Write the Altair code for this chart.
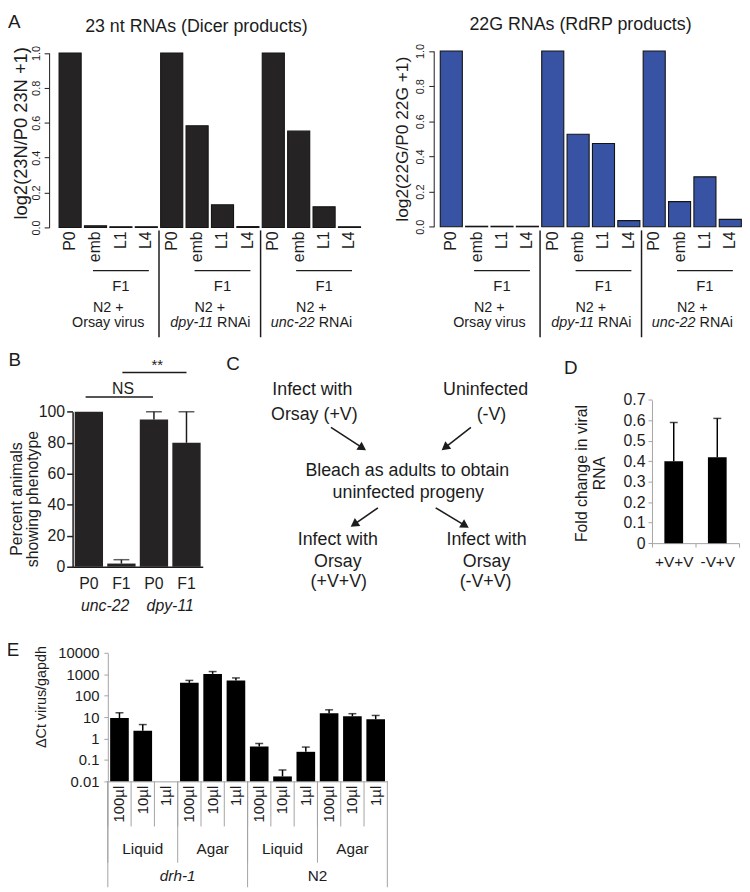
import math
import altair as alt
import pandas as pd

W, H = 742, 884
SX, SY = W / 750.0, H / 892.0


def X(v):
    return round(v * SX, 2)


def Y(v):
    return round(v * SY, 2)


FONT = "Liberation Sans"
INK = "#1c1c1c"
BAR_DARK = "#262324"
BLUE = "#3953a4"
GRAY = "#a3a3a3"

# ---------------- data ----------------
A_GROUPS = ["Orsay virus", "dpy-11 RNAi", "unc-22 RNAi"]
A_STAGES = ["P0", "emb", "L1", "L4"]
A_DICER = [1.00, 0.010, 0.004, 0.004, 1.00, 0.583, 0.130, 0.005, 1.00, 0.552, 0.118, 0.004]
A_RDRP = [1.00, 0.003, 0.003, 0.003, 1.00, 0.526, 0.474, 0.035, 1.00, 0.143, 0.284, 0.042]
A_YTICKS = [0.0, 0.2, 0.4, 0.6, 0.8, 1.0]

B_GENES = ["unc-22", "dpy-11"]
B_GENS = ["P0", "F1"]
B_PCT = [100, 2, 95, 80]
B_ERR = [0, 2.5, 5, 20]
B_YTICKS = [0, 20, 40, 60, 80, 100]

D_CATS = ["+V+V", "-V+V"]
D_FOLD = [0.40, 0.42]
D_ERR = [0.19, 0.19]
D_YTICKS = [0, 0.1, 0.2, 0.3, 0.4, 0.5, 0.6, 0.7]

E_STRAINS = ["drh-1", "N2"]
E_MEDIA = ["Liquid", "Agar"]
E_VOLS = ["100µl", "10µl", "1µl"]
E_CT = [9, 2.3, None, 400, 1050, 520, 0.42, 0.017, 0.24, 15, 11, 8]
E_ERR = [7, 2.2, None, 120, 300, 160, 0.17, 0.017, 0.16, 7, 3.5, 4]
E_YTICKS = [0.01, 0.1, 1, 10, 100, 1000, 10000]

ONE = pd.DataFrame({"k": [0]})


# ---------------- helpers ----------------
def txt(s, x, y, size=15, align="center", angle=0, style="normal", baseline="middle", color=INK):
    return alt.Chart(pd.DataFrame({"t": [s]})).mark_text(
        align=align, baseline=baseline, angle=angle, fontSize=size, font=FONT,
        fontStyle=style, color=color,
    ).encode(x=alt.value(X(x)), y=alt.value(Y(y)), text="t:N")


def band_text(df, xfield, tfield, xs, xa, y, bp=0.5, size=15, align="center", angle=0,
              style="normal", baseline="middle", dx=0):
    return alt.Chart(df).mark_text(
        align=align, baseline=baseline, angle=angle, fontSize=size, font=FONT,
        fontStyle=style, color=INK, dx=dx,
    ).encode(
        x=alt.X(f"{xfield}:N", scale=xs, axis=xa, bandPosition=bp),
        y=alt.value(Y(y)),
        text=f"{tfield}:N",
    )


def band_vrule(df, xfield, xs, xa, bp, y1, y2, color=INK, width=1.2):
    return alt.Chart(df).mark_rule(color=color, strokeWidth=width).encode(
        x=alt.X(f"{xfield}:N", scale=xs, axis=xa, bandPosition=bp),
        y=alt.value(Y(y1)), y2=alt.value(Y(y2)),
    )


def band_hrule(df, f1, bp1, f2, bp2, xs, xa, y, color=INK, width=1.2):
    return alt.Chart(df).mark_rule(color=color, strokeWidth=width).encode(
        x=alt.X(f"{f1}:N", scale=xs, axis=xa, bandPosition=bp1),
        x2=alt.X2(f"{f2}:N", bandPosition=bp2),
        y=alt.value(Y(y)),
    )


def arrow(x0, y0, x1, y1, size=95):
    X0, Y0, X1, Y1 = X(x0), Y(y0), X(x1), Y(y1)
    dx, dy = X1 - X0, Y1 - Y0
    L = math.hypot(dx, dy)
    ux, uy = dx / L, dy / L
    r = math.sqrt(size) / 2
    h = r * math.tan(math.radians(30))
    cx, cy = X1 - ux * 2 * h, Y1 - uy * 2 * h
    ang = math.degrees(math.atan2(dx, -dy)) % 360
    shaft = alt.Chart(ONE).mark_rule(color=INK, strokeWidth=1.6).encode(
        x=alt.value(X0), y=alt.value(Y0), x2=alt.value(round(cx, 2)), y2=alt.value(round(cy, 2)))
    head = alt.Chart(ONE).mark_point(shape="triangle-up", filled=True, size=size, angle=round(ang, 1),
                                     color=INK, opacity=1, strokeWidth=0).encode(
        x=alt.value(round(cx, 2)), y=alt.value(round(cy, 2)))
    return [shaft, head]


# ---------------- panel A ----------------
def panel_a(values, fill, x0, x1, ybot, ytop, axis_x):
    cats = [f"{g}|{s}" for g in A_GROUPS for s in A_STAGES]
    df = pd.DataFrame({"cat": cats, "stage": A_STAGES * 3, "value": values})
    xs = alt.Scale(domain=cats, range=[X(x0), X(x1)], paddingInner=0, paddingOuter=0)
    ys = alt.Scale(domain=[0, 1], range=[Y(ybot), Y(ytop)], nice=False)
    xa = None
    bars = alt.Chart(df).mark_bar(
        width=alt.RelativeBandSize(0.87), fill=fill, stroke="#141414", strokeWidth=1.1
    ).encode(
        x=alt.X("cat:N", scale=xs, axis=xa),
        y=alt.Y("value:Q", scale=ys, axis=alt.Axis(
            orient="left", offset=-X(axis_x), values=A_YTICKS, format=".1f", title=None,
            labelAngle=270, labelAlign="center", labelBaseline="bottom", labelFontSize=11,
            labelPadding=3, tickSize=5, tickColor=INK, domainColor=INK, labelColor=INK,
            grid=False, labelFlush=False, labelOverlap=False)),
    )
    ticks = band_text(df, "cat", "stage", xs, xa, 223, size=16, align="right", angle=270)
    grp = pd.DataFrame({
        "start": [f"{g}|emb" for g in A_GROUPS],
        "l1": [f"{g}|L1" for g in A_GROUPS],
        "end": [f"{g}|L4" for g in A_GROUPS],
        "f1": ["F1"] * 3,
        "n2": ["N2 +"] * 3,
    })
    f1line = band_hrule(grp, "start", 0.4, "end", 0.6, xs, xa, 263, width=1.4)
    f1text = band_text(grp, "l1", "f1", xs, xa, 279, size=15)
    n2text = band_text(grp, "start", "n2", xs, xa, 301.5, bp=1, size=14.5)
    g1 = pd.DataFrame({"c": [f"{A_GROUPS[0]}|emb"], "t": ["Orsay virus"]})
    g1t = band_text(g1, "c", "t", xs, xa, 317, bp=1, size=14.5)
    gi = pd.DataFrame({"c": [f"{g}|emb" for g in A_GROUPS[1:]],
                       "it": [g.split(" ")[0] for g in A_GROUPS[1:]],
                       "rest": [g.split(" ")[1] for g in A_GROUPS[1:]]})
    git = band_text(gi, "c", "it", xs, xa, 317, bp=1, size=14.5, align="right", style="italic", dx=3.3)
    grt = band_text(gi, "c", "rest", xs, xa, 317, bp=1, size=14.5, align="left", dx=7.4)
    seps = pd.DataFrame({"c": [f"{g}|P0" for g in A_GROUPS[1:]]})
    sep = band_vrule(seps, "c", xs, xa, 0, 222, 331, width=1.5)
    return [alt.layer(bars, ticks, f1line, f1text, n2text, g1t, git, grt, sep)]


# ---------------- panel B ----------------
def panel_b():
    cats = [f"{g}|{s}" for g in B_GENES for s in B_GENS]
    df = pd.DataFrame({"cat": cats, "pct": B_PCT, "err": B_ERR})
    df["hi"] = df["pct"] + df["err"]
    xs = alt.Scale(domain=cats, range=[X(66), X(199)], paddingInner=0, paddingOuter=0)
    ys = alt.Scale(domain=[0, 100], range=[Y(565), Y(407)], nice=False)
    xa = alt.Axis(orient="bottom", offset=Y(565) - H, labelExpr="split(datum.value, '|')[1]",
                  ticks=False, tickSize=0, labelPadding=9, labelFontSize=16, labelAngle=0,
                  domainColor=INK, domainWidth=1.5, title=None, labelColor=INK)
    ya = alt.Axis(orient="left", offset=-X(66), values=B_YTICKS, title=None, tickSize=6,
                  tickWidth=1.5, domainWidth=1.5, tickColor=INK, domainColor=INK, labelFontSize=16,
                  labelPadding=2, labelColor=INK, grid=False, labelFlush=False, labelOverlap=False)
    bars = alt.Chart(df).mark_bar(width=alt.RelativeBandSize(0.87), color=BAR_DARK).encode(
        x=alt.X("cat:N", scale=xs, axis=xa),
        y=alt.Y("pct:Q", scale=ys, axis=ya),
    )
    de = df[df["err"] > 0]
    erule = alt.Chart(de).mark_rule(color=INK, strokeWidth=1.5).encode(
        x=alt.X("cat:N", scale=xs, axis=xa), y=alt.Y("pct:Q", scale=ys, axis=ya), y2="hi:Q")
    ecap = alt.Chart(de).mark_tick(color=INK, thickness=1.5, size=16).encode(
        x=alt.X("cat:N", scale=xs, axis=xa), y=alt.Y("hi:Q", scale=ys, axis=ya))
    ns = pd.DataFrame({"a": ["unc-22|P0"], "b": ["dpy-11|P0"], "m": ["unc-22|F1"], "t": ["NS"]})
    st = pd.DataFrame({"a": ["unc-22|F1"], "b": ["dpy-11|F1"], "m": ["dpy-11|P0"], "t": ["**"]})
    nsl = band_hrule(ns, "a", 0.4, "b", 0.47, xs, xa, 392, width=1.5)
    nst = band_text(ns, "m", "t", xs, xa, 384, bp=0.55, size=16)
    stl = band_hrule(st, "a", 0.53, "b", 0.5, xs, xa, 367, width=1.5)
    stt = band_text(st, "m", "t", xs, xa, 359, bp=0.6, size=15)
    genes = pd.DataFrame({"c": [f"{g}|P0" for g in B_GENES], "g": B_GENES})
    gt = band_text(genes, "c", "g", xs, xa, 605, bp=1, size=16, style="italic")
    return [alt.layer(bars, erule, ecap, nsl, nst, stl, stt, gt),
            txt("Percent animals", 9, 496, size=16, angle=270),
            txt("showing phenotype", 26, 496, size=16, angle=270)]


# ---------------- panel D ----------------
def panel_d():
    df = pd.DataFrame({"cat": D_CATS, "v": D_FOLD, "err": D_ERR})
    df["hi"] = df["v"] + df["err"]
    xs = alt.Scale(domain=D_CATS, range=[X(658), X(747)], paddingInner=0, paddingOuter=0)
    ys = alt.Scale(domain=[0, 0.7], range=[Y(541), Y(395)], nice=False)
    xa = alt.Axis(orient="bottom", offset=Y(541) - H, tickBand="extent", tickSize=4, tickColor=GRAY,
                  domainColor=GRAY, labelPadding=8, labelFontSize=15.5, labelAngle=0, title=None,
                  labelColor=INK)
    ya = alt.Axis(orient="left", offset=-X(658), values=D_YTICKS, format=".1~f", title=None,
                  tickSize=4, tickColor=GRAY, domainColor=GRAY, labelFontSize=16, labelPadding=3,
                  labelColor=INK, grid=False, labelFlush=False, labelOverlap=False)
    bars = alt.Chart(df).mark_bar(width=alt.RelativeBandSize(0.43), color="#000000").encode(
        x=alt.X("cat:N", scale=xs, axis=xa),
        y=alt.Y("v:Q", scale=ys, axis=ya),
    )
    erule = alt.Chart(df).mark_rule(color="#000", strokeWidth=1.5).encode(
        x=alt.X("cat:N", scale=xs, axis=xa), y=alt.Y("v:Q", scale=ys, axis=ya), y2="hi:Q")
    ecap = alt.Chart(df).mark_tick(color="#000", thickness=1.5, size=8).encode(
        x=alt.X("cat:N", scale=xs, axis=xa), y=alt.Y("hi:Q", scale=ys, axis=ya))
    return [alt.layer(bars, erule, ecap),
            txt("Fold change in viral", 587, 470, size=16, angle=270),
            txt("RNA", 605, 470, size=16, angle=270)]


# ---------------- panel E ----------------
def panel_e():
    cats = [f"{s}|{m}|{v}" for s in E_STRAINS for m in E_MEDIA for v in E_VOLS]
    df = pd.DataFrame({"cat": cats, "v": E_CT, "err": E_ERR})
    dfb = df.dropna().copy()
    dfb["hi"] = dfb["v"] + dfb["err"]
    xs = alt.Scale(domain=cats, range=[X(102), X(387.6)], paddingInner=0, paddingOuter=0)
    ys = alt.Scale(type="log", domain=[0.01, 10000], range=[Y(784), Y(653)], nice=False)
    xa = alt.Axis(orient="bottom", offset=Y(784) - H, labelExpr="split(datum.value, '|')[2]",
                  labelAngle=270, labelAlign="right", labelBaseline="middle", ticks=False,
                  tickSize=0, labelPadding=4, labelFontSize=15, domainColor=GRAY, title=None,
                  labelColor=INK)
    ya = alt.Axis(orient="left", offset=-X(102), values=E_YTICKS, format="~g", title=None,
                  tickSize=4, tickColor=GRAY, domainColor=GRAY, labelFontSize=15, labelPadding=5,
                  labelColor=INK, grid=False, labelFlush=False, labelOverlap=False)
    bars = alt.Chart(dfb).mark_bar(width=alt.RelativeBandSize(0.8), color="#000000").encode(
        x=alt.X("cat:N", scale=xs, axis=xa),
        y=alt.Y("v:Q", scale=ys, axis=ya),
        y2=alt.Y2Datum(0.01),
    )
    erule = alt.Chart(dfb).mark_rule(color="#000", strokeWidth=1.5).encode(
        x=alt.X("cat:N", scale=xs, axis=xa), y=alt.Y("v:Q", scale=ys, axis=ya), y2="hi:Q")
    ecap = alt.Chart(dfb).mark_tick(color="#000", thickness=1.5, size=8).encode(
        x=alt.X("cat:N", scale=xs, axis=xa), y=alt.Y("hi:Q", scale=ys, axis=ya))
    alld = pd.DataFrame({"c": cats})
    last = pd.DataFrame({"c": [cats[-1]]})
    lvl1 = band_vrule(alld, "c", xs, xa, 0, 784, 830, color=GRAY, width=1)
    lvl2 = band_vrule(pd.DataFrame({"c": [f"{s}|{m}|{E_VOLS[0]}" for s in E_STRAINS for m in E_MEDIA]}),
                      "c", xs, xa, 0, 784, 867, color=GRAY, width=1)
    lvl3 = band_vrule(pd.DataFrame({"c": [f"{s}|{E_MEDIA[0]}|{E_VOLS[0]}" for s in E_STRAINS]}),
                      "c", xs, xa, 0, 784, 892, color=GRAY, width=1)
    endl = band_vrule(last, "c", xs, xa, 1, 784, 892, color=GRAY, width=1)
    media = pd.DataFrame({"c": [f"{s}|{m}|{E_VOLS[1]}" for s in E_STRAINS for m in E_MEDIA],
                          "m": [m for s in E_STRAINS for m in E_MEDIA]})
    mt = band_text(media, "c", "m", xs, xa, 853, size=15.5)
    s1 = pd.DataFrame({"c": [f"{E_STRAINS[0]}|{E_MEDIA[1]}|{E_VOLS[0]}"], "s": [E_STRAINS[0]]})
    s2 = pd.DataFrame({"c": [f"{E_STRAINS[1]}|{E_MEDIA[1]}|{E_VOLS[0]}"], "s": [E_STRAINS[1]]})
    st1 = band_text(s1, "c", "s", xs, xa, 881, bp=0, size=15.5, style="italic")
    st2 = band_text(s2, "c", "s", xs, xa, 881, bp=0, size=15.5)
    return [alt.layer(bars, erule, ecap, lvl1, lvl2, lvl3, endl, mt, st1, st2),
            txt("ΔCt virus/gapdh", 35, 698, size=14.5, angle=270)]


# ---------------- panel C (diagram) ----------------
def panel_c():
    out = [
        txt("Infect with", 311, 385, size=18), txt("Orsay (+V)", 313, 410, size=18),
        txt("Uninfected", 488, 385, size=18), txt("(-V)", 494, 410, size=18),
        txt("Bleach as adults to obtain", 408, 467, size=18),
        txt("uninfected progeny", 409, 490, size=18),
        txt("Infect with", 337, 538, size=18), txt("Orsay", 337, 560, size=18),
        txt("(+V+V)", 338, 581, size=18),
        txt("Infect with", 489, 538, size=18), txt("Orsay", 489, 560, size=18),
        txt("(-V+V)", 488, 581, size=18),
    ]
    out += arrow(330, 423, 367, 447)
    out += arrow(473, 423, 442, 447)
    out += arrow(378, 505, 349, 525)
    out += arrow(437, 505, 472, 526)
    return out


layers = []
layers += panel_a(A_DICER, BAR_DARK, 50.5, 361.9, 219, 41, 42)
layers += panel_a(A_RDRP, BLUE, 440, 751, 218.3, 39, 435)
layers += [
    txt("A", 6.5, 9, size=19),
    txt("23 nt RNAs (Dicer products)", 192.5, 14.5, size=18),
    txt("22G RNAs (RdRP products)", 585, 13, size=18),
    txt("log2(23N/P0 23N +1)", 13, 123, size=18.5, angle=270),
    txt("log2(22G/P0 22G +1)", 404, 129, size=17.5, angle=270),
    txt("B", 7, 354, size=19),
    txt("C", 230, 358, size=19),
    txt("D", 575, 362, size=19),
    txt("E", 5, 650, size=19),
]
layers += panel_b()
layers += panel_c()
layers += panel_d()
layers += panel_e()

chart = (
    alt.layer(*layers)
    .resolve_scale(x="independent", y="independent")
    .resolve_axis(x="independent", y="independent")
    .properties(width=W, height=H, padding=0, autosize=alt.AutoSizeParams(type="none"))
    .configure_view(stroke=None)
    .configure_axis(labelFont=FONT, grid=False)
)

chart.save("out.html", embed_options={"renderer": "svg", "actions": False})
